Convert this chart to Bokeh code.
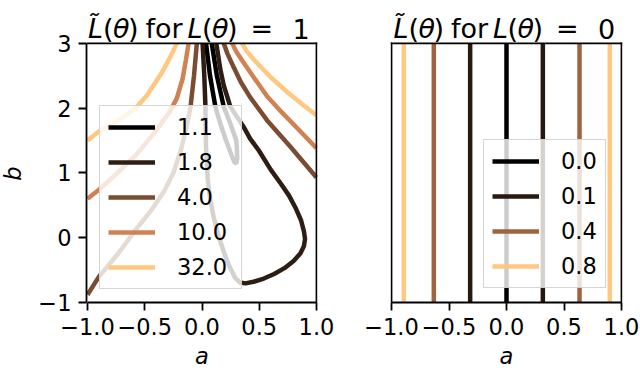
import math
from bokeh.plotting import figure
from bokeh.layouts import row
from bokeh.models import FixedTicker, Range1d
from bokeh.core.properties import value
from bokeh.embed import file_html
from bokeh.resources import INLINE

# ---------------- data ----------------
a_ticks = [-1.0, -0.5, 0.0, 0.5, 1.0]
a_tick_labels = ["\u22121.0", "\u22120.5", "0.0", "0.5", "1.0"]
b_ticks = [-1, 0, 1, 2, 3]
b_tick_labels = ["\u22121", "0", "1", "2", "3"]

# left panel: contour levels of L~ for L(theta)=1
levels_left = ["1.1", "1.8", "4.0", "10.0", "32.0"]
colors_left = ["#000000", "#2e1d12", "#7a4c31", "#d18253", "#ffc77f"]

c11_a = [0.035, 0.07, 0.117, 0.16, 0.21, 0.263, 0.285, 0.30, 0.308, 0.305, 0.30, 0.248, 0.19, 0.13, 0.085]
c11_b = [3.0, 2.5, 2.02, 1.76, 1.5, 1.25, 1.16, 1.15, 1.22, 1.35, 1.5, 1.76, 2.02, 2.5, 3.0]

c18_a = [0.005, 0.02, 0.03, 0.035, 0.05, 0.073, 0.102, 0.146, 0.204, 0.25, 0.29, 0.33, 0.38, 0.45,
         0.54, 0.63, 0.72, 0.8, 0.86, 0.89, 0.9, 0.89, 0.865, 0.82, 0.76, 0.686, 0.6, 0.495, 0.42,
         0.364, 0.3, 0.248, 0.19, 0.16, 0.125]
c18_b = [3.0, 2.5, 2.02, 1.4, 0.9, 0.58, 0.32, 0.02, -0.29, -0.48, -0.62, -0.69, -0.705, -0.68,
         -0.63, -0.56, -0.47, -0.36, -0.24, -0.13, -0.02, 0.1, 0.27, 0.45, 0.65, 0.84, 1.05, 1.35, 1.53,
         1.71, 1.88, 2.02, 2.35, 2.6, 3.0]

c40_left_a = [-1.0, -0.9, -0.73, -0.58, -0.44, -0.33, -0.25, -0.18, -0.13, -0.1, -0.07, -0.045]
c40_left_b = [-0.88, -0.6, -0.24, 0.12, 0.43, 0.72, 1.0, 1.38, 1.75, 2.02, 2.5, 3.0]
c40_right_a = [0.19, 0.22, 0.277, 0.34, 0.42, 0.569, 0.774, 1.0]
c40_right_b = [3.0, 2.85, 2.63, 2.4, 2.17, 1.81, 1.4, 0.93]

c10_left_a = [-1.0, -0.9, -0.75, -0.58, -0.41, -0.28, -0.22, -0.17, -0.14, -0.117]
c10_left_b = [0.6, 0.74, 0.98, 1.27, 1.63, 1.95, 2.15, 2.45, 2.75, 3.0]
c10_right_a = [0.263, 0.3, 0.364, 0.45, 0.57, 0.7, 0.86, 1.0]
c10_right_b = [3.0, 2.87, 2.7, 2.48, 2.18, 1.93, 1.64, 1.38]

c32_left_a = [-1.0, -0.9, -0.73, -0.58, -0.48, -0.35, -0.28, -0.22]
c32_left_b = [1.5, 1.64, 1.81, 2.0, 2.2, 2.55, 2.78, 3.0]
c32_right_a = [0.35, 0.39, 0.452, 0.598, 0.744, 0.889, 1.0]
c32_right_b = [3.0, 2.88, 2.75, 2.48, 2.25, 2.04, 1.89]

# right panel: L~ for L(theta)=0 -> vertical contours at these a values
levels_right = ["0.0", "0.1", "0.4", "0.8"]
colors_right = ["#000000", "#281910", "#9f643f", "#ffc77f"]
r00_a = [0.0]
r01_a = [-0.316, 0.316]
r04_a = [-0.632, 0.635]
r08_a = [-0.893, 0.898]

# ---------------- layout constants (pixels) ----------------
FONT = "DejaVu Sans"
TICK_SIZE = "22.5px"
TITLE_SIZE = "27px"
LW = 4.5
SPINE_W = 1.8

TOTAL_H = 371
TITLE_SPACE = 43      # px above the axes box, inside the canvas (title lives here)
BOX_H = 260           # axes box height
PANEL_BOTTOM = TOTAL_H - TITLE_SPACE - BOX_H
TITLE_BASE = 28.5     # title baseline from the top of the page

AMIN, AMAX = a_ticks[0], a_ticks[-1]
BMIN, BMAX = b_ticks[0], b_ticks[-1]
PX_PER_B = BOX_H / (BMAX - BMIN)


def make_fig(width, left_border, box_w, right_border, show_y):
    # frame is widened by 1px on each side so that the spines are not clipped
    px_per_a = box_w / (AMAX - AMIN)
    pad = 1.0 / px_per_a
    kw = {}
    if not show_y:
        kw["y_axis_location"] = None
    ytop = BMAX + TITLE_SPACE / PX_PER_B
    p = figure(width=width, height=TOTAL_H,
               x_range=Range1d(AMIN - pad, AMAX + pad), y_range=Range1d(BMIN, ytop),
               frame_align=False, output_backend="svg", toolbar_location=None, title=None,
               min_border_left=left_border - 1, min_border_right=right_border - 1,
               min_border_top=0, min_border_bottom=PANEL_BOTTOM, **kw)
    p.xgrid.visible = False
    p.ygrid.visible = False
    p.background_fill_color = "white"
    p.border_fill_color = "white"
    p.outline_line_color = None
    axes = [p.xaxis[0]] + ([p.yaxis[0]] if show_y else [])
    for ax in axes:
        ax.axis_line_width = SPINE_W
        ax.axis_line_color = "black"
        ax.major_tick_line_width = SPINE_W
        ax.major_tick_line_color = "black"
        ax.major_tick_out = 8
        ax.major_tick_in = 0
        ax.minor_tick_out = 0
        ax.minor_tick_in = 0
        ax.major_label_standoff = 7
        ax.major_label_text_font = FONT
        ax.major_label_text_font_size = TICK_SIZE
        ax.major_label_text_color = "black"
    p.xaxis.ticker = FixedTicker(ticks=a_ticks)
    p.xaxis.major_label_overrides = dict(zip(a_ticks, a_tick_labels))
    p.xaxis.bounds = (AMIN, AMAX)
    p.xaxis.axis_label = "a"
    p.xaxis.axis_label_text_font = FONT
    p.xaxis.axis_label_text_font_size = TICK_SIZE
    p.xaxis.axis_label_text_font_style = "italic"
    p.xaxis.axis_label_text_color = "black"
    p.xaxis.axis_label_standoff = 5
    if show_y:
        p.yaxis.ticker = FixedTicker(ticks=b_ticks)
        p.yaxis.major_label_overrides = dict(zip(b_ticks, b_tick_labels))
        p.yaxis.bounds = (BMIN, BMAX)
    return p, px_per_a


def add_spines(p, with_left):
    x0 = [AMIN, AMAX]
    y0 = [BMAX, BMIN]
    x1 = [AMAX, AMAX]
    y1 = [BMAX, BMAX]
    if with_left:
        x0.append(AMIN); y0.append(BMIN); x1.append(AMIN); y1.append(BMAX)
    p.segment(x0=x0, y0=y0, x1=x1, y1=y1, line_color="black", line_width=SPINE_W,
              line_cap="square")


def make_strip(width, height):
    s = figure(width=width, height=height, x_range=Range1d(0, width), y_range=Range1d(height, 0),
               output_backend="svg", toolbar_location=None, title=None, frame_align=False,
               x_axis_location=None, y_axis_location=None, min_border=0,
               min_border_left=0, min_border_right=0, min_border_top=0, min_border_bottom=0)
    s.xgrid.visible = False
    s.ygrid.visible = False
    s.outline_line_color = None
    s.background_fill_color = "white"
    s.border_fill_color = "white"
    return s


def put_text(s, txt, x, y, size, italic=False, align="left", baseline="alphabetic", angle=0.0):
    s.text(x=[x], y=[y], text=[txt], text_font=value(FONT), text_font_size=value(size),
           text_font_style=value("italic" if italic else "normal"),
           text_align=value(align), text_baseline=value(baseline), angle=angle,
           text_color="black")


def add_title(p, px_per_a, dx, value_text):
    pieces = [("L\u0303", 0.5, True), ("(", 15.5, False), ("\u03b8", 25.5, True), (")", 40.5, False),
              ("for", 58.0, False), ("L", 100.0, True), ("(", 114.5, False), ("\u03b8", 124.5, True),
              (")", 139.5, False), ("=", 163.0, False), (value_text, 205.0, False)]
    yb = BMAX + (TITLE_SPACE - TITLE_BASE) / PX_PER_B
    for txt, off, it in pieces:
        put_text(p, txt, AMIN + (off + dx) / px_per_a, yb, TITLE_SIZE, italic=it)


def style_legend(p, loc, label_w):
    lg = p.legend[0]
    lg.location = loc
    lg.label_text_font = FONT
    lg.label_text_font_size = TICK_SIZE
    lg.label_text_color = "black"
    lg.glyph_width = 47
    lg.glyph_height = 24
    lg.label_height = 24
    lg.label_width = label_w
    lg.label_standoff = 22
    lg.padding = 8
    lg.spacing = 9
    lg.margin = 0
    lg.border_line_color = "#cccccc"
    lg.border_line_width = 1.8
    lg.border_line_alpha = 0.8
    lg.background_fill_color = "white"
    lg.background_fill_alpha = 0.8


B_W = 30
L_LEFT, L_FRAME, L_RIGHT = 57, 229, 30
R_LEFT, R_FRAME, R_RIGHT = 45, 230, 19
LW1 = L_LEFT + L_FRAME + L_RIGHT
RW1 = R_LEFT + R_FRAME + R_RIGHT

# ---------------- left panel ----------------
p1, k1 = make_fig(LW1, L_LEFT, L_FRAME, L_RIGHT, True)
left_curves = [
    ([c11_a], [c11_b]),
    ([c18_a], [c18_b]),
    ([c40_left_a, c40_right_a], [c40_left_b, c40_right_b]),
    ([c10_left_a, c10_right_a], [c10_left_b, c10_right_b]),
    ([c32_left_a, c32_right_a], [c32_left_b, c32_right_b]),
]
for lab, col, (xs, ys) in zip(levels_left, colors_left, left_curves):
    p1.multi_line(xs=xs, ys=ys, line_color=col, line_width=LW, legend_label=lab)
add_spines(p1, False)
style_legend(p1, (13, 13), 56)
add_title(p1, k1, 0.0, "1")

# ---------------- right panel ----------------
p2, k2 = make_fig(RW1, R_LEFT, R_FRAME, R_RIGHT, False)
for lab, col, xs in zip(levels_right, colors_right, [r00_a, r01_a, r04_a, r08_a]):
    p2.segment(x0=xs, y0=[BMIN] * len(xs), x1=xs, y1=[BMAX] * len(xs),
               line_color=col, line_width=LW, legend_label=lab)
add_spines(p2, True)
style_legend(p2, (93, 14), 36)
add_title(p2, k2, 1.5, "0")

# ---------------- y label strip ----------------
bs = make_strip(B_W, TOTAL_H)
put_text(bs, "b", 12, TITLE_SPACE + BOX_H / 2, TICK_SIZE, italic=True,
         align="center", baseline="middle", angle=math.pi / 2)

layout = row(bs, p1, p2)
open("out.html", "w").write(file_html(layout, INLINE))
